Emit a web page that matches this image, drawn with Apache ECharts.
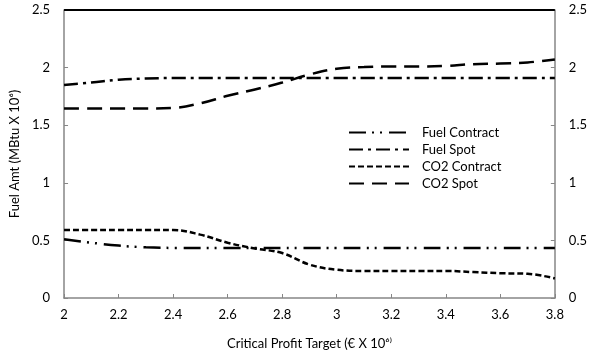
<!DOCTYPE html>
<html><head><meta charset="utf-8">
<script src="https://cdn.jsdelivr.net/npm/echarts@6/dist/echarts.min.js"></script>
<style>html,body{margin:0;padding:0;background:#fff}#c{width:590px;height:356px}</style>
</head><body><div id="c"></div>
<script>
const xValues = [2.0,2.1,2.2,2.3,2.4,2.5,2.6,2.7,2.8,2.9,3.0,3.1,3.2,3.3,3.4,3.5,3.6,3.7,3.8];
const fuelContract = [0.51,0.48,0.455,0.44,0.435,0.435,0.435,0.435,0.435,0.435,0.435,0.435,0.435,0.435,0.435,0.435,0.435,0.435,0.435];
const fuelSpot = [1.85,1.87,1.895,1.905,1.91,1.91,1.91,1.91,1.91,1.91,1.91,1.91,1.91,1.91,1.91,1.91,1.91,1.91,1.91];
const co2Contract = [0.59,0.59,0.59,0.59,0.59,0.55,0.48,0.43,0.39,0.29,0.245,0.235,0.235,0.235,0.235,0.225,0.215,0.21,0.17];
const co2Spot = [1.645,1.645,1.645,1.645,1.65,1.69,1.755,1.81,1.87,1.94,1.99,2.005,2.01,2.01,2.015,2.03,2.035,2.045,2.07];
const upperLimit = 2.5;
const seriesNames = ['Fuel Contract','Fuel Spot','CO2 Contract','CO2 Spot'];

const font = 'Lato, "Open Sans", sans-serif';
const pair = arr => xValues.map((x,i)=>[x,arr[i]]);
const axisColor = '#868686';
const yAxisBase = {
  type:'value', min:0, max:2.5, interval:0.5,
  splitLine:{show:false},
  axisLine:{show:true,lineStyle:{color:axisColor,width:1.5}},
  axisTick:{show:true,inside:true,length:4,lineStyle:{color:axisColor}},
  axisLabel:{color:'#000',fontSize:13,fontFamily:font,margin:14}
};
const dashes = [[17,6,2,6,2,7],[14,5,3,5],[6,3],[15,8]];
const datas = [fuelContract,fuelSpot,co2Contract,co2Spot];
const series = seriesNames.map((n,i)=>({
  name:n, type:'line', data:pair(datas[i]), smooth:0.4, symbol:'none',
  lineStyle:{color:'#000',width:2.5,type:dashes[i]},
  itemStyle:{color:'#000'}
}));
series[0].markLine = {silent:true,symbol:'none',label:{show:false},
  lineStyle:{color:'#000',width:2,type:'solid'},data:[{yAxis:upperLimit}]};

const chart = echarts.init(document.getElementById('c'));
chart.setOption({
  animation:false,
  grid:{left:61,right:34,top:10,bottom:58},
  legend:{
    orient:'vertical', left:343, top:121, itemWidth:60, itemHeight:10, itemGap:4,
    itemStyle:{opacity:0},
    textStyle:{fontSize:13,fontFamily:font,color:'#000',padding:[0,0,0,8]},
    data:seriesNames
  },
  xAxis:{
    type:'value', min:2, max:3.8, interval:0.2,
    name:'Critical Profit Target (€ X 10⁶⁾', nameLocation:'middle', nameGap:39,
    nameTextStyle:{fontSize:13,fontFamily:font,color:'#000'},
    splitLine:{show:false},
    axisLine:{show:true,lineStyle:{color:axisColor,width:1.5}},
    axisTick:{show:true,inside:true,length:4,lineStyle:{color:axisColor}},
    axisLabel:{color:'#000',fontSize:13,fontFamily:font,margin:10,
      formatter:v=>String(+v.toFixed(1))}
  },
  yAxis:[
    Object.assign({},yAxisBase,{position:'left',name:'Fuel Amt (MBtu X 10⁶)',nameLocation:'middle',nameGap:38,
      nameTextStyle:{fontSize:13,fontFamily:font,color:'#000'}}),
    Object.assign({},yAxisBase,{position:'right'})
  ],
  series:series
});
</script></body></html>
